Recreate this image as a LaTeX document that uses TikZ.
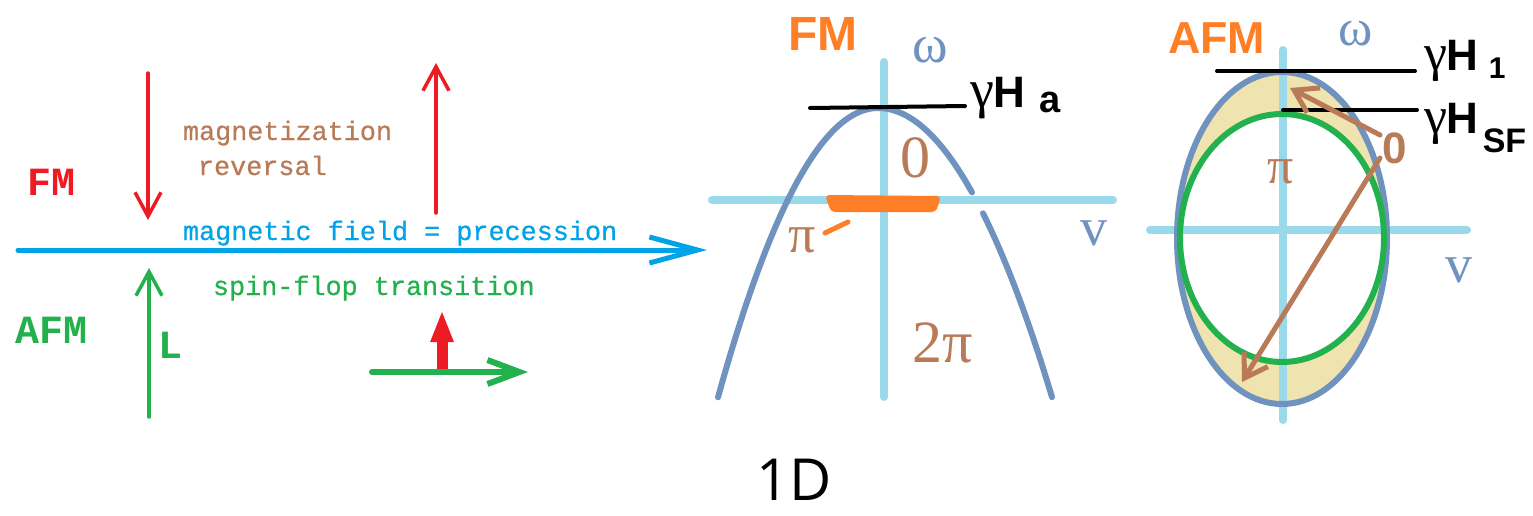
\documentclass[tikz,border=0pt]{standalone}
\usepackage{fontspec}
\setmainfont{Liberation Serif}
\newfontfamily\monof{Liberation Mono}[FakeBold=0.6]
\newfontfamily\monob{Liberation Mono Bold}
\newfontfamily\sansf{Liberation Sans}
\newfontfamily\openf{Open Sans}
\usetikzlibrary{arrows.meta}
\definecolor{pred}{RGB}{237,28,36}
\definecolor{pgreen}{RGB}{34,177,76}
\definecolor{pblue}{RGB}{0,162,232}
\definecolor{pbrown}{RGB}{185,122,87}
\definecolor{porange}{RGB}{255,127,39}
\definecolor{paxis}{RGB}{153,217,234}
\definecolor{pcurve}{RGB}{112,146,190}
\definecolor{ptan}{RGB}{239,228,176}
\begin{document}
\begin{tikzpicture}[x=0.5pt,y=-0.5pt,line cap=round,
  lbl/.style={inner sep=0pt,outer sep=0pt,anchor=base west},
  monotext/.style={lbl,font=\monof\fontsize{13.4}{16}\selectfont},
  monobold/.style={lbl,font=\monob\fontsize{20}{24}\selectfont},
  serifbig/.style={lbl,font=\fontsize{#1}{#1}\selectfont},
  axisline/.style={paxis,line width=4pt},
  curveline/.style={pcurve,line width=3pt},
  levelline/.style={black,line width=2pt},
  thinarrow/.style={line width=1.75pt,-{Straight Barb[length=12pt,width=13pt]}},
  brownarrow/.style={pbrown,line width=2.5pt,-{Straight Barb[length=11pt,width=14pt]}}]
\fill[white] (0,0) rectangle (1533,515);
\useasboundingbox (0,0) rectangle (1533,515);

% ---------------- left part ----------------
\coordinate (bS) at (18,250);
\coordinate (bE) at (707,250);
\draw[pblue,line width=2.5pt,-{Straight Barb[length=24pt,width=13pt]}] (bS) -- (bE);

\coordinate (rd1) at (148,73);
\coordinate (rd2) at (148,220);
\draw[pred,thinarrow] (rd1) -- (rd2);
\coordinate (ru1) at (436,213);
\coordinate (ru2) at (436,63);
\draw[pred,thinarrow] (ru1) -- (ru2);
\coordinate (gu1) at (149,417);
\coordinate (gu2) at (149,268);
\draw[pgreen,thinarrow] (gu1) -- (gu2);

\coordinate (tr1) at (442,369);
\coordinate (tr2) at (442,310);
\draw[pred,line width=5.5pt,line cap=butt,-{Triangle[length=16pt,width=10.5pt]}] (tr1) -- (tr2);
\coordinate (gr1) at (372,372);
\coordinate (gr2) at (528,372);
\draw[pgreen,line width=3pt,-{Straight Barb[length=16pt,width=12pt]}] (gr1) -- (gr2);

\node[monobold,text=pred] (fmL) at (27,195) {FM};
\node[monobold,text=pgreen] (afmL) at (16,343) {AFM};
\node[monobold,text=pgreen] (Lvec) at (158,358) {L};
\node[monotext,text=pbrown] (mag1) at (183,140) {magnetization};
\node[monotext,text=pbrown] (mag2) at (198,175) {reversal};
\node[monotext,text=pblue] (prec) at (183,240) {magnetic field = precession};
\node[monotext,text=pgreen] (sflop) at (213,295) {spin-flop transition};

% ---------------- FM panel ----------------
\coordinate (fvT) at (884,62);
\coordinate (fvB) at (884,397);
\coordinate (fhL) at (712,200);
\coordinate (fhR) at (1113,200);
\draw[axisline] (fvT) -- (fvB);
\draw[axisline] (fhL) -- (fhR);
\fill[porange,rounded corners=2pt] (825,195) -- (941,196) -- (936,212) -- (831,212) -- cycle;
\coordinate (pl1) at (825,233);
\coordinate (pl2) at (848,222);
\draw[porange,line width=2.5pt] (pl1) -- (pl2);
\draw[curveline] plot[domain=718:878,samples=60] (\x,{108+1.13*((\x-878)/10)^2});
\draw[curveline] plot[domain=878:972,samples=40] (\x,{108+0.955*((\x-878)/10)^2});
\draw[curveline] plot[domain=983:1052,samples=30] (\x,{108+0.955*((\x-878)/10)^2});
\coordinate (ha1) at (810,108);
\coordinate (ha2) at (965,106);
\draw[levelline] (ha1) -- (ha2);

\node[lbl,text=porange,font=\sansf\bfseries\fontsize{24}{28}\selectfont] (fmT) at (788,50) {FM};
\node[serifbig=27,text=pcurve] (omF) at (912,62) {ω};
\node[lbl,font=\fontsize{27}{30}\selectfont] (gHa) at (970,107) {γ{\sansf\bfseries\fontsize{22}{26}\selectfont H\hspace{7pt}\raisebox{-2.5pt}{\fontsize{19}{22}\selectfont a}}};
\node[serifbig=30,text=pbrown] (zeroF) at (900,177) {0};
\node[serifbig=30,text=pbrown] (twopi) at (912,362) {2π};
\node[serifbig=27,text=pbrown] (piF) at (788,252) {π};
\node[serifbig=27,text=pcurve] (nuF) at (1080,245) {v};

% ---------------- AFM panel ----------------
\coordinate (ac) at (1282,238);
\fill[ptan] (ac) ellipse [x radius=52.5pt,y radius=83pt];
\fill[white] (ac) ellipse [x radius=51pt,y radius=62pt];
\coordinate (avT) at (1283,50);
\coordinate (avB) at (1283,420);
\coordinate (ahL) at (1150,230);
\coordinate (ahR) at (1467,230);
\draw[axisline] (avT) -- (avB);
\draw[axisline] (ahL) -- (ahR);
\draw[curveline] (ac) ellipse [x radius=52.5pt,y radius=83pt];
\draw[pgreen,line width=3pt] (ac) ellipse [x radius=51pt,y radius=62pt];
\coordinate (h1a) at (1217,71);
\coordinate (h1b) at (1415,71);
\draw[levelline] (h1a) -- (h1b);
\coordinate (hsa) at (1283,110);
\coordinate (hsb) at (1417,110);
\draw[levelline] (hsa) -- (hsb);
\coordinate (ba1) at (1380,135);
\coordinate (ba2) at (1290,88);
\draw[brownarrow] (ba1) -- (ba2);
\coordinate (bb1) at (1380,158);
\coordinate (bb2) at (1242,382);
\draw[brownarrow] (bb1) -- (bb2);

\node[lbl,text=porange,font=\sansf\bfseries\fontsize{22.4}{26}\selectfont] (afmT) at (1168,53) {AFM};
\node[serifbig=26,text=pcurve] (omA) at (1338,45) {ω};
\node[lbl,font=\fontsize{26}{30}\selectfont] (gH1) at (1424,70) {γ{\sansf\bfseries\fontsize{22}{26}\selectfont H\hspace{5pt}\raisebox{-4pt}{\fontsize{15}{18}\selectfont 1}}};
\node[lbl,font=\fontsize{26}{30}\selectfont] (gHsf) at (1424,133) {γ{\sansf\bfseries\fontsize{22}{26}\selectfont H\hspace{2pt}\raisebox{-9.5pt}{\fontsize{17}{20}\selectfont SF}}};
\node[lbl,text=pbrown,font=\sansf\bfseries\fontsize{22}{26}\selectfont] (zeroA) at (1382,163) {0};
\node[serifbig=26,text=pbrown] (piA) at (1267,183) {π};
\node[serifbig=27,text=pcurve] (nuA) at (1445,282) {v};

% ---------------- caption ----------------
\node[lbl,font=\openf\fontsize{29}{33}\selectfont] (cap) at (756,500) {1D};
\end{tikzpicture}
\end{document}
